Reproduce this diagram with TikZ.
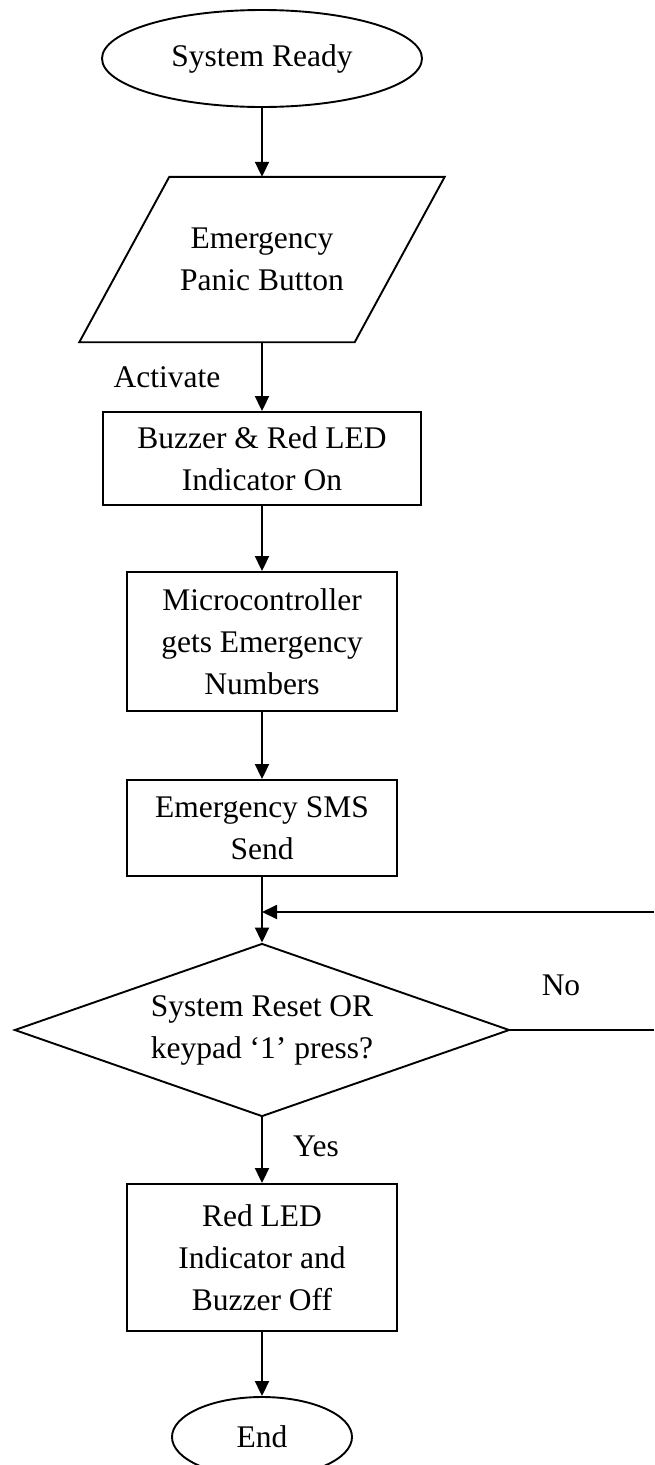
\documentclass[tikz,border=0pt]{standalone}
\usepackage{fontspec}
\setmainfont{Liberation Serif}
\usetikzlibrary{shapes.geometric,arrows.meta,calc}

\tikzset{
  every node/.style={font=\fontsize{31.5}{42}\selectfont, inner sep=0pt, align=center},
  flowline/.style={line width=1.9pt, draw=black},
  flowarrow/.style={flowline, -{Triangle[length=15pt,width=14pt]}},
  terminal/.style={ellipse, draw, line width=1.9pt},
  iobody/.style={rectangle},
  procbox/.style={rectangle, draw, line width=1.9pt},
  decision/.style={diamond, aspect=2.86, draw, line width=1.9pt},
  caption/.style={}
}

\begin{document}
\begin{tikzpicture}[x=1pt,y=-1pt]
  \useasboundingbox (0,0) rectangle (654,1465);
  \clip (0,0) rectangle (654,1465);

  % main column of the flow chart
  \node[terminal, minimum width=320pt, minimum height=97pt] (ready) at (262,58.5) {System Ready};
  \node[iobody, minimum width=275pt, minimum height=165pt] (panic) at (262,259.5) {Emergency\\Panic Button};
  \draw[flowline, line join=miter]
    ($(panic.south west)+(-45pt,0)$) -- ($(panic.south east)+(-45pt,0)$) --
    ($(panic.north east)+(45pt,0)$) -- ($(panic.north west)+(45pt,0)$) -- cycle;
  \node[procbox, minimum width=318pt, minimum height=93pt] (buzzon) at (262,458.5) {Buzzer \& Red LED\\Indicator On};
  \node[procbox, minimum width=270pt, minimum height=139pt] (micro) at (262,641.5) {Microcontroller\\gets Emergency\\Numbers};
  \node[procbox, minimum width=270pt, minimum height=96pt] (sms) at (262,828) {Emergency SMS\\Send};
  \node[decision, minimum width=495pt, minimum height=173pt] (reset) at (262,1030) {System Reset OR\\keypad ‘1’ press?};
  \node[procbox, minimum width=270pt, minimum height=147pt] (buzzoff) at (262,1257.5) {Red LED\\Indicator and\\Buzzer Off};
  \node[terminal, minimum width=180pt, minimum height=80pt] (stop) at (262,1437) {End};

  % edge labels
  \node[caption] (lblact) at (167,377) {Activate};
  \node[caption] (lblno) at (561,985) {No};
  \node[caption] (lblyes) at (316,1146) {Yes};

  % loop-back points at the right margin
  \coordinate (noout) at (654,1030);
  \coordinate (backin) at (654,912);
  \coordinate (join) at (262,912);

  % connectors
  \draw[flowarrow] (ready) -- (panic.north);
  \draw[flowarrow] (panic.south) -- (buzzon);
  \draw[flowarrow] (buzzon) -- (micro);
  \draw[flowarrow] (micro) -- (sms);
  \draw[flowarrow] (sms) -- (reset);
  \draw[flowarrow] (backin) -- (join);
  \draw[flowline] (reset.east) -- (noout);
  \draw[flowarrow] (reset) -- (buzzoff);
  \draw[flowarrow] (buzzoff) -- (stop);
\end{tikzpicture}
\end{document}
